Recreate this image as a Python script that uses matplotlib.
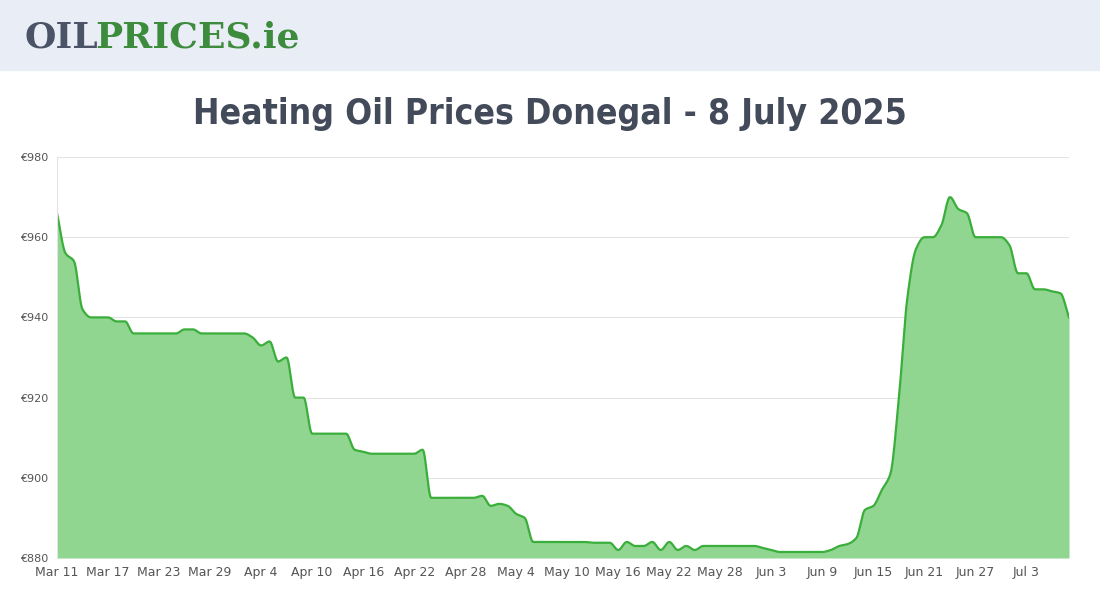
import numpy as np
import pandas as pd
import matplotlib.pyplot as plt
from matplotlib.patches import Rectangle

dates = pd.date_range('2025-03-11', '2025-07-08', freq='D')
prices = [966, 956, 954, 942, 940, 940, 940, 939, 939, 936,
          936, 936, 936, 936, 936, 937, 937, 936, 936, 936,
          936, 936, 936, 935, 933, 934, 929, 930, 920, 920,
          911, 911, 911, 911, 911, 907, 906.5, 906, 906, 906,
          906, 906, 906, 907, 895, 895, 895, 895, 895, 895,
          895.5, 893, 893.5, 893, 891, 890, 884, 884, 884, 884,
          884, 884, 884, 883.8, 883.8, 883.8, 882, 884, 883, 883,
          884, 882, 884, 882, 883, 882, 883, 883, 883, 883,
          883, 883, 883, 882.5, 882, 881.5, 881.5, 881.5, 881.5, 881.5,
          881.5, 882, 883, 883.5, 885, 892, 893, 897, 901, 920,
          945, 957, 960, 960, 963, 970, 967, 966, 960, 960,
          960, 960, 958, 951, 951, 947, 947, 946.5, 946, 940]
tick_idx = list(range(0, 120, 6))
tick_labels = [d.strftime('%b ') + str(d.day) for d in dates[tick_idx]]
y_ticks = [880, 900, 920, 940, 960, 980]


def monotone_curve(y, steps=10):
    # Fritsch-Carlson monotone cubic, only for drawing a smooth line
    y = np.asarray(y, float)
    n = len(y)
    d = np.diff(y)
    m = np.zeros(n)
    m[0], m[-1] = d[0], d[-1]
    for i in range(1, n - 1):
        if d[i - 1] * d[i] > 0:
            m[i] = 2 / (1 / d[i - 1] + 1 / d[i])
    xs, ys = [], []
    t = np.linspace(0, 1, steps, endpoint=False)
    for i in range(n - 1):
        h00 = 2*t**3 - 3*t**2 + 1
        h10 = t**3 - 2*t**2 + t
        h01 = -2*t**3 + 3*t**2
        h11 = t**3 - t**2
        xs.append(i + t)
        ys.append(h00*y[i] + h10*m[i] + h01*y[i+1] + h11*m[i+1])
    xs.append([n - 1])
    ys.append([y[-1]])
    return np.concatenate(xs), np.concatenate(ys)


fig = plt.figure(figsize=(11, 6), dpi=100)
fig.patches.append(Rectangle((0, 530/600), 1, 70/600, transform=fig.transFigure,
                             color='#e9edf5', zorder=0))
fig.text(0.022, 0.937, 'OIL', fontsize=26, fontweight='bold', color='#4a5466',
         family='DejaVu Serif', va='center')
fig.text(0.087, 0.937, 'PRICES.ie', fontsize=26, fontweight='bold', color='#3d8b3d',
         family='DejaVu Serif', va='center')
fig.text(0.5, 0.81, 'Heating Oil Prices Donegal - 8 July 2025', fontsize=25.5,
         color='#434a5a', family='DejaVu Sans', fontstretch='condensed',
         fontweight='bold', ha='center', va='center')

ax = fig.add_axes([57/1100, 42/600, 1012/1100, 401/600])
sx, sy = monotone_curve(prices)
ax.fill_between(sx, sy, 880, color='#90d590', lw=0)
ax.plot(sx, sy, color='#3aae3a', lw=1.6)
ax.set_xlim(0, 119)
ax.set_ylim(880, 980)
ax.set_xticks(tick_idx)
ax.set_xticklabels(tick_labels, fontsize=9, color='#555555')
ax.set_yticks(y_ticks)
ax.set_yticklabels(['€' + str(v) for v in y_ticks], fontsize=8, color='#555555')
ax.grid(True, axis='y', color='#e3e3e3', lw=0.8)
ax.set_axisbelow(True)
ax.tick_params(length=0, pad=6)
for s in ax.spines.values():
    s.set_visible(False)
ax.spines['left'].set_visible(True)
ax.spines['left'].set_color('#e3e3e3')

fig.savefig('out.png', dpi=100)
